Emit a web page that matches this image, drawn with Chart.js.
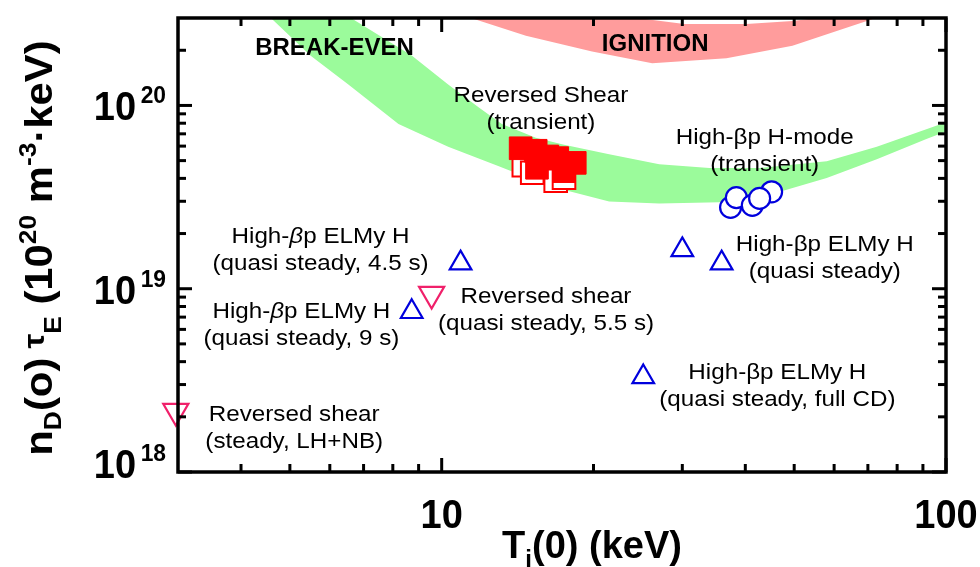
<!DOCTYPE html>
<html>
<head>
<meta charset="utf-8">
<script src="https://cdn.jsdelivr.net/npm/chart.js@4.4.1/dist/chart.umd.min.js"></script>
<style>
  html, body { margin: 0; padding: 0; background: #ffffff; }
  #wrap { width: 980px; height: 567px; position: relative; }
  canvas { display: block; }
</style>
</head>
<body>
<div id="wrap"><canvas id="chart" width="980" height="567"></canvas></div>
<script>
// ---- Break-even band (T_i in keV, n_D tau_E T_i) ----
const breakEvenUpperT = [4.33, 6.62, 8.72, 10.3, 11.85, 13.16, 15.37, 17.48, 21.48, 27.0, 33.95, 42.68, 58.0, 72.9, 91.7, 104.2];
const breakEvenUpperN = [7.0e20, 2.99e20, 1.87e20, 1.30e20, 9.76e19, 7.91e19, 6.66e19, 6.11e19, 5.41e19, 4.78e19, 4.55e19, 4.55e19, 4.96e19, 5.96e19, 7.44e19, 8.42e19];
const breakEvenLowerT = [4.23, 4.59, 5.49, 6.53, 8.21, 10.3, 12.98, 16.32, 21.48, 27.0, 35.5, 46.1, 58.0, 72.9, 91.7, 104.2];
const breakEvenLowerN = [3.78e20, 2.99e20, 1.87e20, 1.30e20, 7.91e19, 5.96e19, 4.66e19, 3.64e19, 2.99e19, 2.92e19, 2.96e19, 3.34e19, 4.02e19, 5.08e19, 6.58e19, 7.54e19];

// ---- Ignition band ----
const ignitionUpperT = [11.06, 20.51, 24.64, 30.27, 40.2, 49.6, 54.9, 77.4];
const ignitionUpperN = [5.47e20, 3.78e20, 2.99e20, 2.78e20, 2.78e20, 2.89e20, 2.99e20, 4.28e20];
const ignitionLowerT = [11.06, 11.47, 14.69, 19.87, 26.15, 36.7, 49.6, 62.4, 71.6, 77.4];
const ignitionLowerN = [3.78e20, 2.99e20, 2.40e20, 1.97e20, 1.70e20, 1.81e20, 2.12e20, 2.61e20, 2.96e20, 3.56e20];

// ---- Reversed shear, transient (filled and open squares) ----
const rsTransientT = [14.34, 15.36, 16.20, 16.95, 18.36, 15.45, 17.48];
const rsTransientN = [5.84e19, 5.66e19, 5.27e19, 5.16e19, 4.86e19, 4.57e19, 4.38e19];
const rsTransientOpenT = [14.55, 15.12, 16.83, 17.48];
const rsTransientOpenN = [4.72e19, 4.29e19, 3.88e19, 4.04e19];

// ---- High-beta_p H-mode, transient (circles) ----
const hbpTransientT = [37.4, 38.4, 45.1, 41.3, 42.7];
const hbpTransientN = [2.78e19, 3.14e19, 3.38e19, 2.85e19, 3.11e19];

// ---- High-beta_p ELMy H, quasi steady (up triangles) ----
const hbpElmyT = [8.72, 10.9, 25.1, 30.0, 35.9];
const hbpElmyN = [7.49e18, 1.38e19, 3.30e18, 1.63e19, 1.38e19];

// ---- Reversed shear, steady / quasi steady (down triangles) ----
const rsSteadyT = [2.97, 9.55];
const rsSteadyN = [2.15e18, 9.35e18];

// ---- Axis ticks ----
const xMajorTicks = [10, 100];
const xMinorTicks = [4, 5, 6, 7, 8, 9, 20, 30, 40, 50, 60, 70, 80, 90];
const xTickLabels = ['10', '100'];
const yMajorTicks = [1e18, 1e19, 1e20];
const yMinorTicks = [2e18, 3e18, 4e18, 5e18, 6e18, 7e18, 8e18, 9e18,
                     2e19, 3e19, 4e19, 5e19, 6e19, 7e19, 8e19, 9e19, 2e20];
const yTickExponents = ['18', '19', '20'];

const toPoints = (xs, ys) => xs.map((v, i) => ({ x: v, y: ys[i] }));

const SANS = "'Liberation Sans', Arial, Helvetica, sans-serif";
const REG = '22px ' + SANS;
const ITAL = 'italic 22px ' + SANS;
const TEXT_SX = 1.1;

// Annotation blocks: anchor (T, n tau) is the centre of the first baseline
const annotations = [
  { t: 6.13, n: 1.874e20, bold: true, lines: [[['BREAK-EVEN', 'bold 24px ' + SANS]]] },
  { t: 26.5, n: 1.97e20, bold: true, lines: [[['IGNITION', 'bold 24px ' + SANS]]] },
  { t: 15.73, n: 1.038e20, lines: [[['Reversed Shear', REG]], [['(transient)', REG]]] },
  { t: 43.7, n: 6.19e19, lines: [[['High-\u03b2p H-mode', REG]], [['(transient)', REG]]] },
  { t: 5.75, n: 1.784e19, lines: [[['High-', REG], ['\u03b2', ITAL], ['p ELMy H', REG]], [['(quasi steady, 4.5 s)', REG]]] },
  { t: 5.27, n: 6.91e18, lines: [[['High-', REG], ['\u03b2', ITAL], ['p ELMy H', REG]], [['(quasi steady, 9 s)', REG]]] },
  { t: 16.1, n: 8.32e18, lines: [[['Reversed shear', REG]], [['(quasi steady, 5.5 s)', REG]]] },
  { t: 57.5, n: 1.597e19, lines: [[['High-\u03b2p ELMy H', REG]], [['(quasi steady)', REG]]] },
  { t: 46.3, n: 3.22e18, lines: [[['High-\u03b2p ELMy H', REG]], [['(quasi steady, full CD)', REG]]] },
  { t: 5.10, n: 1.897e18, lines: [[['Reversed shear', REG]], [['(steady, LH+NB)', REG]]] }
];

// Draw a run of text pieces (each with its own font and vertical shift)
function drawRuns(ctx, runs, x, y, align, sx) {
  ctx.save();
  ctx.translate(x, y);
  ctx.scale(sx || 1, 1);
  ctx.textAlign = 'left';
  ctx.textBaseline = 'alphabetic';
  let total = 0;
  const widths = runs.map(r => { ctx.font = r[1]; const w = ctx.measureText(r[0]).width; total += w; return w; });
  let cx = align === 'center' ? -total / 2 : (align === 'right' ? -total : 0);
  runs.forEach((r, i) => {
    ctx.font = r[1];
    ctx.fillText(r[0], cx, r[2] || 0);
    cx += widths[i];
  });
  ctx.restore();
}

const frameAndText = {
  id: 'frameAndText',
  afterDatasetsDraw(chart) {
    const { ctx, chartArea: a, scales: { x, y } } = chart;
    ctx.save();
    ctx.strokeStyle = '#000';
    ctx.fillStyle = '#000';
    ctx.lineCap = 'butt';

    const seg = (x1, y1, x2, y2) => { ctx.beginPath(); ctx.moveTo(x1, y1); ctx.lineTo(x2, y2); ctx.stroke(); };
    const MAJ = 14, MIN = 8;
    ctx.lineWidth = 3;
    xMajorTicks.forEach(v => { const p = x.getPixelForValue(v); seg(p, a.bottom, p, a.bottom - MAJ); seg(p, a.top, p, a.top + MAJ); });
    xMinorTicks.forEach(v => { const p = x.getPixelForValue(v); seg(p, a.bottom, p, a.bottom - MIN); seg(p, a.top, p, a.top + MIN); });
    yMajorTicks.forEach(v => { const p = y.getPixelForValue(v); seg(a.left, p, a.left + MAJ, p); seg(a.right, p, a.right - MAJ, p); });
    yMinorTicks.forEach(v => { const p = y.getPixelForValue(v); seg(a.left, p, a.left + MIN, p); seg(a.right, p, a.right - MIN, p); });

    ctx.lineWidth = 3.5;
    ctx.strokeRect(a.left, a.top, a.right - a.left, a.bottom - a.top);

    // tick labels
    const TICKF = 'bold 40px ' + SANS;
    const EXPF = 'bold 24px ' + SANS;
    xMajorTicks.forEach((v, i) => {
      drawRuns(ctx, [[xTickLabels[i], TICKF]], x.getPixelForValue(v), a.bottom + 56, 'center', 0.95);
    });
    yMajorTicks.forEach((v, i) => {
      const p = y.getPixelForValue(v);
      const shift = i === 0 ? -9 : 0;
      drawRuns(ctx, [['10', TICKF], ['\u2009' + yTickExponents[i], EXPF, -17]], a.left - 12, p + 15 + shift, 'right', 0.95);
    });

    // axis titles
    const TF = 'bold 38px ' + SANS;
    const SUBF = 'bold 24px ' + SANS;
    drawRuns(ctx, [['T', TF], ['i', SUBF, 9], ['(0) (keV)', TF]], (a.left + a.right) / 2 + 30, a.bottom + 86, 'center');

    ctx.save();
    ctx.translate(52, 248);
    ctx.rotate(-Math.PI / 2);
    drawRuns(ctx, [
      ['n', TF], ['D', SUBF, 9], ['(o)', TF], [' \u03c4', 'bold 30px ' + SANS, -8], ['E', SUBF, 9],
      [' (10', TF], ['20', SUBF, -16], [' m', TF], ['-3', SUBF, -16], ['\u00b7keV)', TF]
    ], 0, 0, 'center', 1.1);
    ctx.restore();

    // annotations
    annotations.forEach(ann => {
      const px = x.getPixelForValue(ann.t);
      const py = y.getPixelForValue(ann.n);
      ann.lines.forEach((line, k) => {
        drawRuns(ctx, line, px, py + k * 27, 'center', ann.bold ? 1 : TEXT_SX);
      });
    });
    ctx.restore();
  }
};

const bandStyle = { borderWidth: 0, pointRadius: 0, tension: 0, order: 10 };
const markerBase = { showLine: false, clip: false, pointHoverRadius: 0 };

new Chart(document.getElementById('chart').getContext('2d'), {
  type: 'line',
  data: {
    datasets: [
      Object.assign({ label: 'break-even upper', data: toPoints(breakEvenUpperT, breakEvenUpperN), fill: 1, backgroundColor: '#9bfb9b' }, bandStyle),
      Object.assign({ label: 'break-even lower', data: toPoints(breakEvenLowerT, breakEvenLowerN), fill: false }, bandStyle),
      Object.assign({ label: 'ignition upper', data: toPoints(ignitionUpperT, ignitionUpperN), fill: 3, backgroundColor: '#ff9c9c' }, bandStyle),
      Object.assign({ label: 'ignition lower', data: toPoints(ignitionLowerT, ignitionLowerN), fill: false }, bandStyle),
      Object.assign({ label: 'RS transient (open)', data: toPoints(rsTransientOpenT, rsTransientOpenN), pointStyle: 'rect', pointRadius: 16, backgroundColor: '#ffffff', borderColor: '#ff0000', pointBorderWidth: 2, order: 6 }, markerBase),
      Object.assign({ label: 'RS transient', data: toPoints(rsTransientT, rsTransientN), pointStyle: 'rect', pointRadius: 16, backgroundColor: '#ff0000', borderColor: '#ff0000', pointBorderWidth: 1, order: 5 }, markerBase),
      Object.assign({ label: 'High-bp H-mode transient', data: toPoints(hbpTransientT, hbpTransientN), pointStyle: 'circle', pointRadius: 10.5, backgroundColor: '#ffffff', borderColor: '#0000dd', pointBorderWidth: 2.2, order: 2 }, markerBase),
      Object.assign({ label: 'High-bp ELMy H', data: toPoints(hbpElmyT, hbpElmyN), pointStyle: 'triangle', pointRadius: 12.5, backgroundColor: 'rgba(0,0,0,0)', borderColor: '#0000dd', pointBorderWidth: 2.2, order: 1 }, markerBase),
      Object.assign({ label: 'Reversed shear steady', data: toPoints(rsSteadyT, rsSteadyN), pointStyle: 'triangle', pointRotation: 180, pointRadius: 14.5, backgroundColor: 'rgba(0,0,0,0)', borderColor: '#f0206a', pointBorderWidth: 2.2, order: 1 }, markerBase)
    ]
  },
  options: {
    responsive: false,
    animation: false,
    devicePixelRatio: 1,
    events: [],
    layout: { padding: { left: 178, right: 34, top: 9, bottom: 95 } },
    plugins: { legend: { display: false }, tooltip: { enabled: false } },
    scales: {
      x: { type: 'logarithmic', min: 3, max: 100, display: false },
      y: { type: 'logarithmic', min: 1e18, max: 3e20, display: false }
    }
  },
  plugins: [frameAndText]
});
</script>
</body>
</html>
